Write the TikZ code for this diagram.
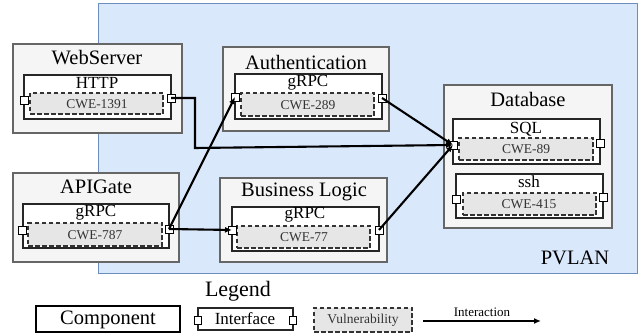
\documentclass[tikz,border=0pt]{standalone}
\usepackage{fontspec}
\setmainfont{Liberation Serif}
\usetikzlibrary{arrows.meta}
\definecolor{lanfill}{HTML}{DAE8FC}
\definecolor{landraw}{HTML}{6C8EBF}
\definecolor{compfill}{HTML}{F5F5F5}
\definecolor{compdraw}{HTML}{666666}
\definecolor{vulnfill}{HTML}{E6E6E6}
\definecolor{vulndraw}{HTML}{333333}
\tikzset{
  every node/.style={font=\rmfamily},
  box/.style={rectangle, inner sep=0pt, outer sep=0pt},
  lanbox/.style={box, fill=lanfill, draw=landraw, line width=1pt},
  compbox/.style={box, fill=compfill, draw=compdraw, line width=1.8pt},
  ifacebox/.style={box, fill=white, draw=black!85, line width=1.5pt},
  vulnbox/.style={box, fill=vulnfill, draw=vulndraw, line width=1.2pt, dash pattern=on 4.5pt off 2.5pt},
  portbox/.style={box, fill=white, draw=black, line width=0.9pt, minimum width=8pt, minimum height=8pt},
  titletext/.style={inner sep=0pt, font=\rmfamily\fontsize{20.5}{24}\selectfont},
  ifacetext/.style={inner sep=0pt, font=\rmfamily\fontsize{17}{20}\selectfont},
  vulntext/.style={inner sep=0pt, text=black!80, font=\rmfamily\fontsize{13.5}{16}\selectfont},
  conn/.style={line width=2.1pt, -{Latex[length=7pt,width=6pt]}},
}
\begin{document}
\begin{tikzpicture}[x=1pt,y=-1pt]
\useasboundingbox (0,0) rectangle (641,336);

% PVLAN
\node[lanbox, anchor=north west, minimum width=539pt, minimum height=270pt] (lan) at (98,4) {};
\node[titletext] (lantext) at (575,258) {PVLAN};

% WebServer
\node[compbox, anchor=north west, minimum width=169pt, minimum height=89pt] (ws) at (13,44) {};
\node[titletext] (wst) at (97,58) {WebServer};
\node[ifacebox, anchor=north west, minimum width=147pt, minimum height=44pt] (http) at (24,75) {};
\node[ifacetext] (httpt) at (97,83) {HTTP};
\node[vulnbox, anchor=north west, minimum width=133pt, minimum height=21pt] (v1) at (30,93) {};
\node[vulntext] (v1t) at (97,104) {CWE-1391};
\node[portbox] (httpL) at (24,100) {};
\node[portbox] (httpR) at (171,98) {};

% Authentication
\node[compbox, anchor=north west, minimum width=166pt, minimum height=84pt] (au) at (223,47) {};
\node[titletext] (aut) at (306,62) {Authentication};
\node[ifacebox, anchor=north west, minimum width=147pt, minimum height=45pt] (aug) at (235,74) {};
\node[ifacetext] (augt) at (308,83) {gRPC};
\node[vulnbox, anchor=north west, minimum width=133pt, minimum height=23pt] (v2) at (241,93) {};
\node[vulntext] (v2t) at (308,105) {CWE-289};
\node[portbox] (auL) at (235,97) {};
\node[portbox] (auR) at (382,98) {};

% Database
\node[compbox, anchor=north west, minimum width=168pt, minimum height=143pt] (db) at (444,85) {};
\node[titletext] (dbt) at (528,99) {Database};
\node[ifacebox, anchor=north west, minimum width=147pt, minimum height=45pt] (sql) at (453,119) {};
\node[ifacetext] (sqlt) at (526,129) {SQL};
\node[vulnbox, anchor=north west, minimum width=134pt, minimum height=22pt] (v3) at (459,138) {};
\node[vulntext] (v3t) at (526,149) {CWE-89};
\node[portbox] (sqlL) at (453,145) {};
\node[portbox] (sqlR) at (600,143) {};
\node[ifacebox, anchor=north west, minimum width=147pt, minimum height=44pt] (ssh) at (456,174) {};
\node[ifacetext] (ssht) at (529,182) {ssh};
\node[vulnbox, anchor=north west, minimum width=133pt, minimum height=22pt] (v4) at (463,193) {};
\node[vulntext] (v4t) at (529,204) {CWE-415};
\node[portbox] (sshL) at (456,199) {};
\node[portbox] (sshR) at (603,197) {};

% APIGate
\node[compbox, anchor=north west, minimum width=166pt, minimum height=89pt] (ag) at (13,173) {};
\node[titletext] (agt) at (96,187) {APIGate};
\node[ifacebox, anchor=north west, minimum width=146pt, minimum height=44pt] (agg) at (23,204) {};
\node[ifacetext] (aggt) at (96,213) {gRPC};
\node[vulnbox, anchor=north west, minimum width=134pt, minimum height=23pt] (v5) at (28,223) {};
\node[vulntext] (v5t) at (95,235) {CWE-787};
\node[portbox] (agL) at (22,230) {};
\node[portbox] (agR) at (169,229) {};

% Business Logic
\node[compbox, anchor=north west, minimum width=167pt, minimum height=84pt] (bl) at (220,178) {};
\node[titletext] (blt) at (304,192) {Business Logic};
\node[ifacebox, anchor=north west, minimum width=147pt, minimum height=44pt] (blg) at (232,207) {};
\node[ifacetext] (blgt) at (305,215) {gRPC};
\node[vulnbox, anchor=north west, minimum width=133pt, minimum height=22pt] (v6) at (237,226) {};
\node[vulntext] (v6t) at (304,237) {CWE-77};
\node[portbox] (blL) at (232,230) {};
\node[portbox] (blR) at (379,230) {};

% Connectors
\coordinate (b1) at (195,98);
\coordinate (b2) at (195,148);
\draw[conn] (httpR.center) -- (b1) -- (b2) -- (sqlL.center);
\draw[conn] (agR.center) -- (auL.center);
\draw[conn] (agR.center) -- (blL.center);
\draw[conn] (auR.center) -- (sqlL.center);
\draw[conn] (blR.center) -- (sqlL.center);

% Legend
\node[inner sep=0pt, font=\rmfamily\fontsize{22}{26}\selectfont] (legt) at (238,291) {Legend};
\node[box, fill=white, draw=black, line width=1.8pt, anchor=north west, minimum width=144pt, minimum height=26pt] (lcomp) at (36,306) {};
\node[titletext] (lcompt) at (108,320) {Component};
\node[ifacebox, anchor=north west, minimum width=95pt, minimum height=22pt] (lif) at (198,308) {};
\node[ifacetext] (lift) at (245,319) {Interface};
\node[portbox, minimum width=7pt] (lifL) at (198,320) {};
\node[portbox, minimum width=7pt] (lifR) at (293,320) {};
\node[vulnbox, anchor=north west, minimum width=98pt, minimum height=24pt] (lv) at (314,308) {};
\node[vulntext] (lvt) at (363,320) {Vulnerability};
\coordinate (la1) at (423,321);
\coordinate (la2) at (541,321);
\draw[line width=1.8pt, -{Latex[length=7pt,width=6pt]}] (la1) -- (la2);
\node[inner sep=0pt, font=\rmfamily\fontsize{13}{15}\selectfont] (lat) at (482,312) {Interaction};
\end{tikzpicture}
\end{document}
